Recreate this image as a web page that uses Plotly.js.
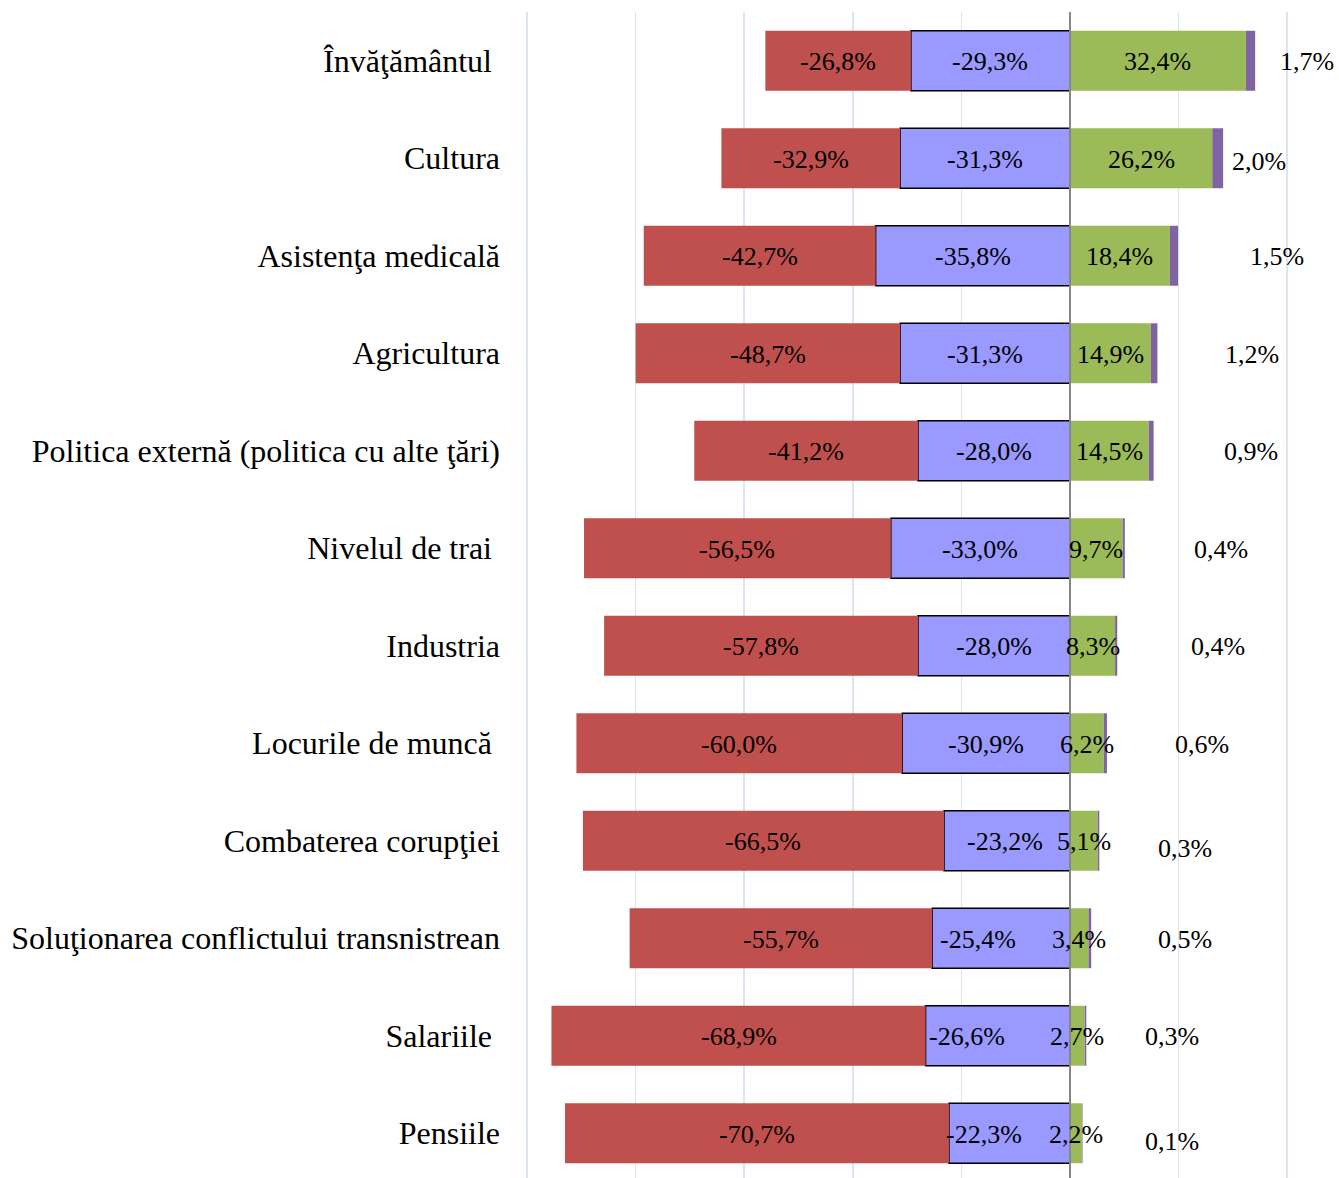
<!DOCTYPE html>
<html>
<head>
<meta charset="utf-8">
<script src="https://cdn.plot.ly/plotly-3.0.1.min.js"></script>
<style>
html, body { margin: 0; padding: 0; background: #ffffff; }
#chart { width: 1339px; height: 1178px; }
</style>
</head>
<body>
<div id="chart"></div>
<script>
// ---- Data ----
const categories = [
  'Învăţământul\u00a0',
  'Cultura',
  'Asistenţa medicală',
  'Agricultura',
  'Politica externă (politica cu alte ţări)',
  'Nivelul de trai\u00a0',
  'Industria',
  'Locurile de muncă\u00a0',
  'Combaterea corupţiei',
  'Soluţionarea conflictului transnistrean',
  'Salariile\u00a0',
  'Pensiile'
];
const redValues    = [-26.8, -32.9, -42.7, -48.7, -41.2, -56.5, -57.8, -60.0, -66.5, -55.7, -68.9, -70.7];
const blueValues   = [-29.3, -31.3, -35.8, -31.3, -28.0, -33.0, -28.0, -30.9, -23.2, -25.4, -26.6, -22.3];
const greenValues  = [32.4, 26.2, 18.4, 14.9, 14.5, 9.7, 8.3, 6.2, 5.1, 3.4, 2.7, 2.2];
const purpleValues = [1.7, 2.0, 1.5, 1.2, 0.9, 0.4, 0.4, 0.6, 0.3, 0.5, 0.3, 0.1];

// ---- Styling ----
const COLORS = { red: '#C0504D', blue: '#9999FF', green: '#9BBB59', purple: '#8064A2' };
const FONT = 'Liberation Serif';
const fmt = v => v.toFixed(1).replace('.', ',') + '%';

// label placement nudges (pixels), as placed in the reference
const blueLabelShift   = [0, 0, 0, 0, 0, 0, 0, 0, -2, -23, -31, -25];
const purpleLabelShift = [52, 36, 99, 95, 97, 96, 101, 95, 86, 94, 86, 90];
const purpleLabelYShift = [0, -2, 0, 0, 0, 0, 0, 0, -7, 0, 0, -7];

function barTrace(vals, color, line) {
  return {
    type: 'bar', orientation: 'h',
    x: vals, y: categories,
    marker: { color: color, line: line || { width: 0 } },
    hoverinfo: 'skip'
  };
}

const traces = [
  barTrace(blueValues, COLORS.blue, { color: '#000000', width: 1.5 }),
  barTrace(redValues, COLORS.red),
  barTrace(greenValues, COLORS.green),
  barTrace(purpleValues, COLORS.purple)
];

const labelFont = { family: FONT, size: 26, color: '#000000' };
const annotations = [];
categories.forEach((c, i) => {
  const base = { y: c, xref: 'x', yref: 'y', showarrow: false, xanchor: 'center', yanchor: 'middle', font: labelFont, yshift: -1 };
  annotations.push(Object.assign({}, base, { x: blueValues[i] + redValues[i] / 2, text: fmt(redValues[i]) }));
  annotations.push(Object.assign({}, base, { x: blueValues[i] / 2, text: fmt(blueValues[i]), xshift: blueLabelShift[i] }));
  annotations.push(Object.assign({}, base, { x: greenValues[i] / 2, text: fmt(greenValues[i]) }));
  annotations.push(Object.assign({}, base, {
    x: greenValues[i] + purpleValues[i], text: fmt(purpleValues[i]),
    xshift: purpleLabelShift[i], yshift: purpleLabelYShift[i] - 1
  }));
});

const layout = {
  width: 1339, height: 1178,
  margin: { l: 525, r: 0, t: 12, b: 0, pad: 0 },
  paper_bgcolor: '#ffffff', plot_bgcolor: '#ffffff',
  barmode: 'relative', bargap: 0.385,
  showlegend: false,
  font: { family: FONT, color: '#000000' },
  xaxis: {
    range: [-100.37, 49.54], tick0: 0, dtick: 20,
    showgrid: true, gridcolor: '#DCE4F0', gridwidth: 1.5,
    zeroline: false, showline: false, showticklabels: false, ticks: '',
    fixedrange: true
  },
  yaxis: {
    type: 'category', categoryorder: 'array', categoryarray: categories,
    range: [11.459, -0.5],
    showgrid: false, zeroline: false, showline: false, ticks: '',
    ticklabelstandoff: 24,
    tickfont: { family: FONT, size: 32, color: '#000000' },
    fixedrange: true
  },
  shapes: [{
    type: 'line', xref: 'x', yref: 'paper', x0: 0, x1: 0, y0: 0, y1: 1,
    line: { color: '#868686', width: 2 }, layer: 'above'
  }],
  annotations: annotations
};

Plotly.newPlot('chart', traces, layout, { displayModeBar: false, staticPlot: true });
</script>
</body>
</html>
